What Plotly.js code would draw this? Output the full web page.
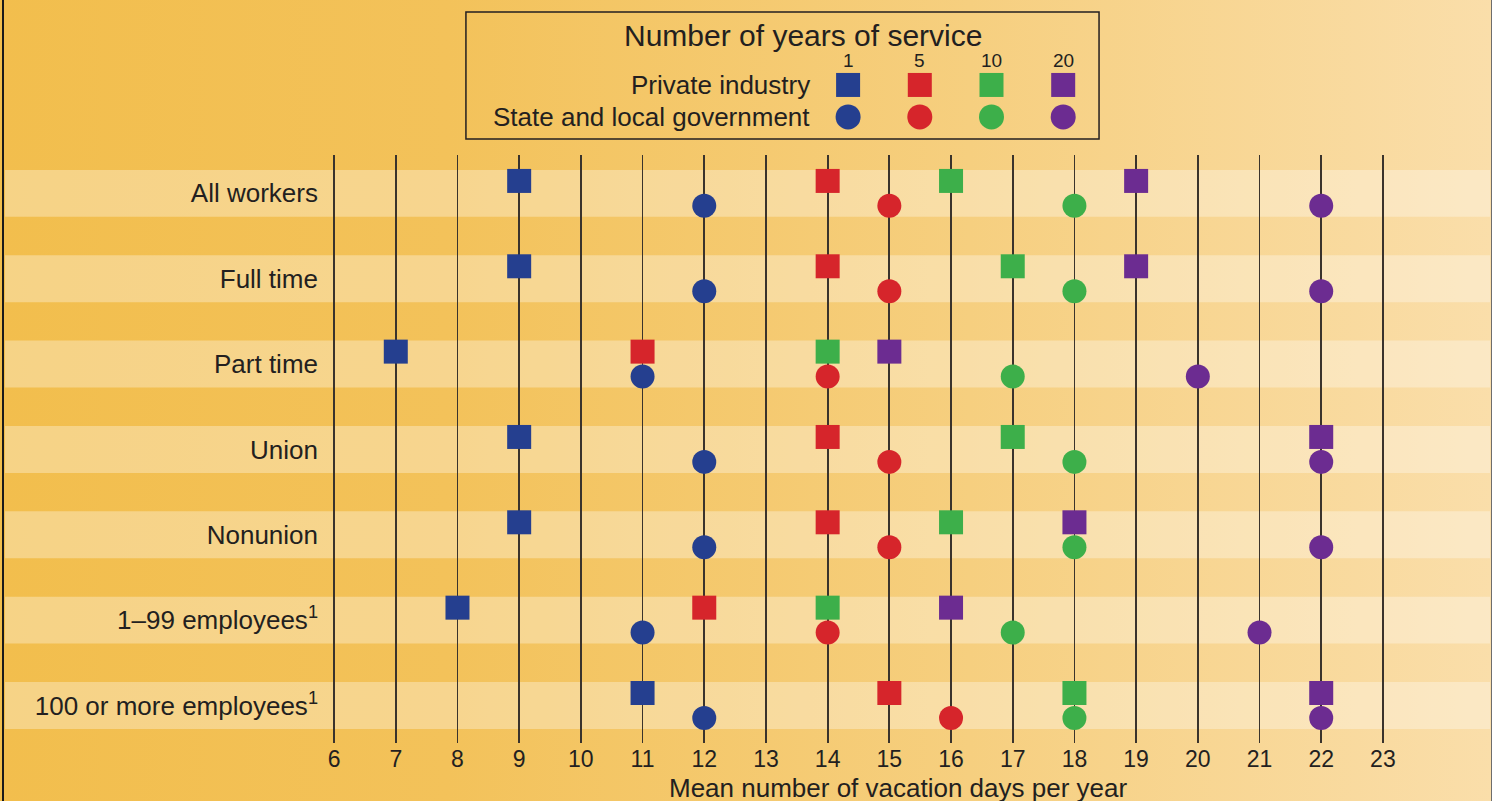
<!DOCTYPE html>
<html>
<head>
<meta charset="utf-8">
<script src="https://cdn.plot.ly/plotly-3.0.1.min.js"></script>
<style>
  html, body { margin: 0; padding: 0; }
  #wrap { position: relative; width: 1492px; height: 801px;
    background: linear-gradient(to right, #F2BE4D 0%, #F3C25A 30%, #F6CF7F 65%, #FADEAA 100%); overflow: hidden; }
  #chart { position: absolute; left: 0; top: 0; width: 1492px; height: 801px; }
</style>
</head>
<body>
<div id="wrap"><div id="chart"></div></div>
<script>
// ---- data ----
const categories = ["All workers", "Full time", "Part time", "Union", "Nonunion",
  "1\u201399 employees<sup>1</sup>", "100 or more employees<sup>1</sup>"];
const years = [1, 5, 10, 20];
const colors = ["#253F8F", "#D6252B", "#3DAF4A", "#6C2C91"];
const private1  = [9, 9, 7, 9, 9, 8, 11];
const private5  = [14, 14, 11, 14, 14, 12, 15];
const private10 = [16, 17, 14, 17, 16, 14, 18];
const private20 = [19, 19, 15, 22, 18, 16, 22];
const state1  = [12, 12, 11, 12, 12, 11, 12];
const state5  = [15, 15, 14, 15, 15, 14, 16];
const state10 = [18, 18, 17, 18, 18, 17, 18];
const state20 = [22, 22, 20, 22, 22, 21, 22];
const xTicks = [6,7,8,9,10,11,12,13,14,15,16,17,18,19,20,21,22,23];
const sectorLabels = ["Private industry", "State and local government"];

const privateSeries = [private1, private5, private10, private20];
const stateSeries = [state1, state5, state10, state20];

const OFF = 0.146;
const FONT = "Liberation Sans, Arial, Helvetica, sans-serif";
const TXT = "#231F20";

const traces = [];
years.forEach((yr, j) => {
  traces.push({
    type: "scatter", mode: "markers", xaxis: "x", yaxis: "y",
    x: privateSeries[j], y: categories.map((c, i) => i - OFF),
    marker: { symbol: "square", size: 24, color: colors[j] },
    hoverinfo: "x", showlegend: false
  });
  traces.push({
    type: "scatter", mode: "markers", xaxis: "x", yaxis: "y",
    x: stateSeries[j], y: categories.map((c, i) => i + OFF),
    marker: { symbol: "circle", size: 24, color: colors[j] },
    hoverinfo: "x", showlegend: false
  });
});

// legend block (own axes)
traces.push({
  type: "scatter", mode: "markers", xaxis: "x2", yaxis: "y2",
  x: years.map((y, k) => k), y: years.map(() => 0),
  marker: { symbol: "square", size: 24, color: colors }, hoverinfo: "skip", showlegend: false
});
traces.push({
  type: "scatter", mode: "markers", xaxis: "x2", yaxis: "y2",
  x: years.map((y, k) => k), y: years.map(() => 1),
  marker: { symbol: "circle", size: 25, color: colors }, hoverinfo: "skip", showlegend: false
});

const shapes = [];
categories.forEach((c, i) => {
  shapes.push({ type: "rect", layer: "below", xref: "paper", yref: "y",
    x0: -0.309, x1: 1.0986, y0: i - 0.275, y1: i + 0.275,
    fillcolor: "rgba(255,255,255,0.32)", line: { width: 0 } });
});
// legend box
shapes.push({ type: "rect", xref: "x2 domain", yref: "y2 domain", x0: 0, x1: 1, y0: 0, y1: 1,
  fillcolor: "rgba(0,0,0,0)", line: { color: "#231F20", width: 1.5 } });
// frame lines
shapes.push({ type: "line", xref: "paper", yref: "paper", x0: -0.3109, x1: -0.3109, y0: -0.1, y1: 1.05,
  line: { color: "#1a1a1a", width: 2 } });
shapes.push({ type: "line", xref: "paper", yref: "paper", x0: 1.1005, x1: 1.1005, y0: -0.1, y1: 1.05,
  line: { color: "#6a6a6a", width: 2 } });

const annotations = [
  { xref: "paper", yref: "paper", x: 0.537, y: -0.0606, xanchor: "center", yanchor: "middle",
    text: "Mean number of vacation days per year", showarrow: false,
    font: { family: FONT, size: 26, color: TXT } },
  { xref: "x2", yref: "y2", x: -0.63, y: -1.56, xanchor: "center", yanchor: "middle",
    text: "Number of years of service", showarrow: false, font: { family: FONT, size: 30, color: TXT } },
  { xref: "x2", yref: "y2", x: -0.5, y: 0, xanchor: "right", yanchor: "middle",
    text: sectorLabels[0], showarrow: false, font: { family: FONT, size: 26, color: TXT } },
  { xref: "x2", yref: "y2", x: -0.5, y: 1, xanchor: "right", yanchor: "middle",
    text: sectorLabels[1], showarrow: false, font: { family: FONT, size: 26, color: TXT } }
];
years.forEach((yr, k) => {
  annotations.push({ xref: "x2", yref: "y2", x: k, y: -0.78, xanchor: "center", yanchor: "middle",
    text: String(yr), showarrow: false, font: { family: FONT, size: 19, color: TXT } });
});

const layout = {
  width: 1492, height: 801,
  margin: { l: 331, r: 106, t: 0, b: 58, pad: 0 },
  paper_bgcolor: "rgba(0,0,0,0)", plot_bgcolor: "rgba(0,0,0,0)",
  font: { family: FONT, color: TXT },
  showlegend: false,
  xaxis: { domain: [0, 1], range: [5.95, 23.05], tickvals: xTicks, ticks: "", showline: false,
    zeroline: false, showgrid: true, gridcolor: "#3A332C", gridwidth: 1.8,
    tickfont: { family: FONT, size: 23, color: TXT }, fixedrange: true, anchor: "y" },
  yaxis: { domain: [0, 0.7914], range: [6.44, -0.45], tickvals: categories.map((c, i) => i),
    ticktext: categories, ticks: "", showgrid: false, zeroline: false, showline: false,
    ticklabelstandoff: 12,
    tickfont: { family: FONT, size: 26, color: TXT }, fixedrange: true, anchor: "x" },
  xaxis2: { domain: [0.1279, 0.7280], range: [-5.33, 3.5], visible: false, anchor: "y2", fixedrange: true },
  yaxis2: { domain: [0.8129, 0.9838], range: [1.69, -2.28], visible: false, anchor: "x2", fixedrange: true },
  shapes: shapes,
  annotations: annotations
};

Plotly.newPlot("chart", traces, layout, { displayModeBar: false, staticPlot: true });
</script>
</body>
</html>
